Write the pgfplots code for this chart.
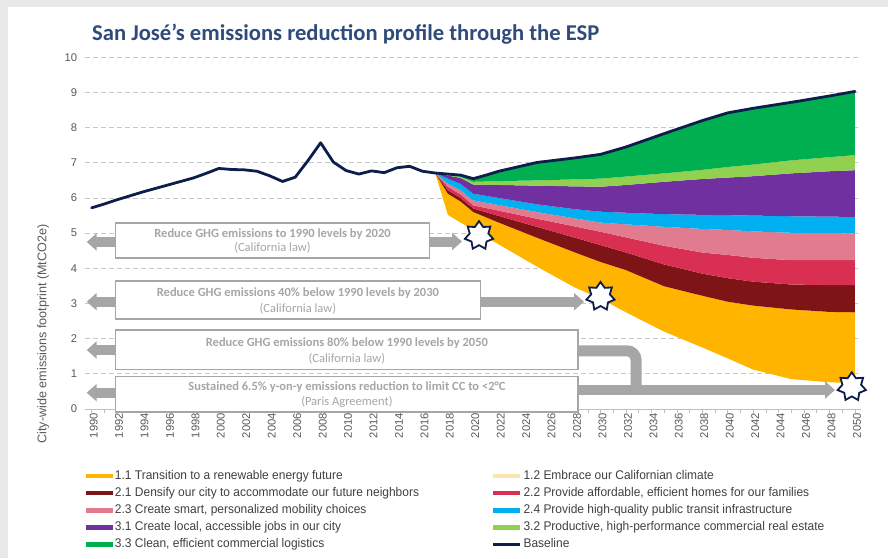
\documentclass[border=0pt]{standalone}
\usepackage{fontspec}
\setmainfont{Liberation Sans}
\newfontfamily\carlito{Carlito}
\newfontfamily\narrowfont[FakeStretch=0.95]{Liberation Sans}
\usepackage{pgfplots}
\pgfplotsset{compat=1.18}
\usepackage{pgfplotstable}
\usepgfplotslibrary{fillbetween}
\usetikzlibrary{arrows.meta}

\definecolor{bggray}{HTML}{E8E8E8}
\definecolor{titleblue}{HTML}{2F4B7C}
\definecolor{c11}{HTML}{FFB400}
\definecolor{c12}{HTML}{FDE3AE}
\definecolor{c21}{HTML}{7E1416}
\definecolor{c22}{HTML}{D92F52}
\definecolor{c23}{HTML}{E17B8F}
\definecolor{c24}{HTML}{00B0F0}
\definecolor{c31}{HTML}{7030A0}
\definecolor{c32}{HTML}{92D050}
\definecolor{c33}{HTML}{00B050}
\definecolor{navy}{HTML}{0E1E4C}
\definecolor{gridgray}{HTML}{C9C9C9}
\definecolor{axisgray}{HTML}{BFBFBF}
\definecolor{ticktext}{HTML}{595959}
\definecolor{annogray}{HTML}{A6A6A6}
\definecolor{legtext}{HTML}{404040}

\pgfdeclareplotmark{star7}{%
  \pgfpathmoveto{\pgfpointpolar{90}{\pgfplotmarksize}}%
  \pgfpathlineto{\pgfpointpolar{115.714}{0.66\pgfplotmarksize}}%
  \pgfpathlineto{\pgfpointpolar{141.429}{\pgfplotmarksize}}%
  \pgfpathlineto{\pgfpointpolar{167.143}{0.66\pgfplotmarksize}}%
  \pgfpathlineto{\pgfpointpolar{192.857}{\pgfplotmarksize}}%
  \pgfpathlineto{\pgfpointpolar{218.571}{0.66\pgfplotmarksize}}%
  \pgfpathlineto{\pgfpointpolar{244.286}{\pgfplotmarksize}}%
  \pgfpathlineto{\pgfpointpolar{270}{0.66\pgfplotmarksize}}%
  \pgfpathlineto{\pgfpointpolar{295.714}{\pgfplotmarksize}}%
  \pgfpathlineto{\pgfpointpolar{321.429}{0.66\pgfplotmarksize}}%
  \pgfpathlineto{\pgfpointpolar{347.143}{\pgfplotmarksize}}%
  \pgfpathlineto{\pgfpointpolar{12.857}{0.66\pgfplotmarksize}}%
  \pgfpathlineto{\pgfpointpolar{38.571}{\pgfplotmarksize}}%
  \pgfpathlineto{\pgfpointpolar{64.286}{0.66\pgfplotmarksize}}%
  \pgfpathclose
  \pgfusepathqfillstroke
}

\pgfplotstableread{
year val
1990 5.72
1991 5.83
1992 5.95
1993 6.06
1994 6.17
1995 6.27
1996 6.37
1997 6.47
1998 6.57
1999 6.70
2000 6.84
2001 6.81
2002 6.80
2003 6.76
2004 6.63
2005 6.47
2006 6.59
2007 7.06
2008 7.57
2009 7.02
2010 6.78
2011 6.68
2012 6.77
2013 6.72
2014 6.86
2015 6.90
2016 6.76
2017 6.71
2018 6.68
2019 6.65
2020 6.55
2021 6.65
2022 6.76
2025 7.01
2028 7.14
2030 7.24
2032 7.45
2035 7.83
2038 8.20
2040 8.42
2042 8.55
2045 8.72
2048 8.90
2050 9.03
}\basedata

\pgfplotstableread{
year b0 b1 b2 b3 b4 b5 b6 b7 b8
2017 6.71 6.71 6.71 6.71 6.71 6.71 6.71 6.71 6.71
2018 5.52 6.12 6.22 6.32 6.41 6.55 6.64 6.66 6.68
2019 5.30 5.90 6.00 6.10 6.22 6.40 6.57 6.60 6.65
2020 5.10 5.60 5.70 5.79 5.93 6.12 6.38 6.46 6.55
2022 4.68 5.30 5.49 5.64 5.80 6.00 6.37 6.48 6.76
2025 4.05 4.87 5.18 5.41 5.60 5.82 6.35 6.50 7.01
2028 3.45 4.45 4.87 5.19 5.42 5.68 6.33 6.53 7.14
2030 3.14 4.18 4.66 5.04 5.30 5.61 6.32 6.55 7.24
2032 2.75 3.95 4.45 4.88 5.25 5.58 6.37 6.61 7.45
2035 2.20 3.49 4.11 4.64 5.18 5.54 6.46 6.70 7.83
2038 1.75 3.22 3.85 4.45 5.12 5.52 6.54 6.80 8.20
2040 1.44 3.05 3.72 4.38 5.09 5.51 6.58 6.88 8.42
2042 1.12 2.94 3.62 4.30 5.05 5.50 6.62 6.95 8.55
2045 0.85 2.83 3.54 4.23 5.01 5.48 6.70 7.07 8.72
2048 0.76 2.76 3.52 4.23 5.00 5.47 6.76 7.16 8.90
2050 0.73 2.75 3.52 4.23 4.99 5.46 6.79 7.22 9.03
}\fut

\pgfplotsset{
  legarea/.style={legend image code/.code={\fill (0pt,-2.25pt) rectangle (27pt,2.25pt);}},
}

\begin{document}
\begin{tikzpicture}[x=1pt,y=1pt]
\fill[bggray] (0,0) rectangle (8.3,558);
\fill[bggray] (0,550.7) rectangle (888,558);

\node[anchor=base west, inner sep=0pt, text=titleblue] at (92,517.3)
  {\carlito\fontsize{22.6}{25}\selectfont\bfseries San José’s emissions reduction profile through the ESP};

\node[rotate=90, inner sep=0pt, text=ticktext] at (43,224)
  {\fontsize{12.6}{14}\selectfont City-wide emissions footprint (MtCO2e)};

\begin{axis}[
  at={(85.3pt,149pt)}, anchor=south west,
  scale only axis, width=776pt, height=351.7pt,
  xmin=1989.5, xmax=2050.5, ymin=0, ymax=10,
  axis lines*=left,
  x axis line style={draw=axisgray, line width=0.8pt},
  y axis line style={draw=none},
  ytick={0,1,...,10},
  ymajorgrids,
  grid style={draw=gridgray, line width=0.8pt, dash pattern=on 5pt off 3pt},
  xtick={1990,1992,...,2050},
  minor xtick={1991,1993,...,2049},
  tick align=outside,
  major tick length=4pt, minor tick length=4pt,
  xtick style={draw=axisgray, line width=0.6pt},
  minor x tick style={draw=axisgray, line width=0.6pt},
  ytick style={draw=none},
  /pgf/number format/1000 sep={},
  /pgf/number format/assume math mode=true,
  ticklabel style={font=\fontsize{11.2}{12}\selectfont, text=ticktext},
  xticklabel style={rotate=90, anchor=east, inner sep=0pt, yshift=-2pt},
  yticklabel style={anchor=east, inner sep=0pt, xshift=-4pt},
  legend columns=2,
  legend cell align=left,
  legend style={
    at={(axis description cs:0.0009,-0.1749)}, anchor=north west,
    draw=none, fill=none, inner sep=0pt, outer sep=0pt,
    font=\narrowfont\fontsize{12.6}{14}\selectfont, text=legtext,
    row sep=6.15pt, column sep=0pt,
    nodes={inner sep=0pt, text height=8.5pt, text depth=2.5pt},
  },
  /tikz/every odd column/.append style={column sep=2pt},
  /tikz/every even column/.append style={column sep=73pt},
]
\addplot[draw=none, name path=b0, forget plot] table[x=year,y=b0]{\fut};
\addplot[draw=none, name path=b1, forget plot] table[x=year,y=b1]{\fut};
\addplot[draw=none, name path=b2, forget plot] table[x=year,y=b2]{\fut};
\addplot[draw=none, name path=b3, forget plot] table[x=year,y=b3]{\fut};
\addplot[draw=none, name path=b4, forget plot] table[x=year,y=b4]{\fut};
\addplot[draw=none, name path=b5, forget plot] table[x=year,y=b5]{\fut};
\addplot[draw=none, name path=b6, forget plot] table[x=year,y=b6]{\fut};
\addplot[draw=none, name path=b7, forget plot] table[x=year,y=b7]{\fut};
\addplot[draw=none, name path=b8, forget plot] table[x=year,y=b8]{\fut};

\addplot[fill=c11, draw=none, forget plot] fill between[of=b1 and b0];
\addplot[fill=c21, draw=none, forget plot] fill between[of=b2 and b1];
\addplot[fill=c22, draw=none, forget plot] fill between[of=b3 and b2];
\addplot[fill=c23, draw=none, forget plot] fill between[of=b4 and b3];
\addplot[fill=c24, draw=none, forget plot] fill between[of=b5 and b4];
\addplot[fill=c31, draw=none, forget plot] fill between[of=b6 and b5];
\addplot[fill=c32, draw=none, forget plot] fill between[of=b7 and b6];
\addplot[fill=c33, draw=none, forget plot] fill between[of=b8 and b7];

\addplot[navy, line width=2.8pt, line join=round, line cap=round, forget plot] table[x=year,y=val]{\basedata};

\addlegendimage{legarea, fill=c11, draw=none}
\addlegendentry{1.1 Transition to a renewable energy future}
\addlegendimage{legarea, fill=c12, draw=none}
\addlegendentry{1.2 Embrace our Californian climate}
\addlegendimage{legarea, fill=c21, draw=none}
\addlegendentry{2.1 Densify our city to accommodate our future neighbors}
\addlegendimage{legarea, fill=c22, draw=none}
\addlegendentry{2.2 Provide affordable, efficient homes for our families}
\addlegendimage{legarea, fill=c23, draw=none}
\addlegendentry{2.3 Create smart, personalized mobility choices}
\addlegendimage{legarea, fill=c24, draw=none}
\addlegendentry{2.4 Provide high-quality public transit infrastructure}
\addlegendimage{legarea, fill=c31, draw=none}
\addlegendentry{3.1 Create local, accessible jobs in our city}
\addlegendimage{legarea, fill=c32, draw=none}
\addlegendentry{3.2 Productive, high-performance commercial real estate}
\addlegendimage{legarea, fill=c33, draw=none}
\addlegendentry{3.3 Clean, efficient commercial logistics}
\addlegendimage{legend image code/.code={\draw[line width=2.5pt] (0pt,0pt) -- (27pt,0pt);}, navy}
\addlegendentry{Baseline}
\end{axis}

% annotations
\tikzset{box/.style={draw=annogray, line width=1.8pt, fill=white},
         blk/.style={annogray, line width=10pt, -{Triangle[length=10pt,width=17pt]}},
         t1/.style={text=annogray, font=\carlito\fontsize{12.5}{14}\selectfont\bfseries},
         t2/.style={text=annogray, font=\carlito\fontsize{12.5}{14}\selectfont}}
% box 1
\draw[box] (115.4,299.7) rectangle (429.5,335.3);
\draw[blk] (116,316) -- (86.7,316);
\draw[blk] (429,316.5) -- (462,316.5);
\node[t1] at (272.5,324) {Reduce GHG emissions to 1990 levels by 2020};
\node[t2] at (272.5,310) {(California law)};
% box 2
\draw[box] (115.4,238.7) rectangle (480.4,277.3);
\draw[blk] (116,256.3) -- (86.7,256.3);
\draw[blk] (480,256.3) -- (584,256.3);
\node[t1] at (297.9,264.7) {Reduce GHG emissions 40\% below 1990 levels by 2030};
\node[t2] at (297.9,249) {(California law)};
% elbow and bottom arrow
\draw[annogray, line width=11pt, rounded corners=9pt] (578,207.2) -| (636,168);
\draw[blk] (578,168) -- (835,168);
% box 3
\draw[box] (115.4,188.5) rectangle (578.3,228);
\draw[blk] (116,208) -- (86.7,208);
\node[t1] at (346.9,214.7) {Reduce GHG emissions 80\% below 1990 levels by 2050};
\node[t2] at (346.9,199.7) {(California law)};
% box 4
\draw[box] (115.4,146.3) rectangle (578.3,181.5);
\draw[blk] (116,165.3) -- (86.7,165.3);
\node[t1] at (346.9,171.3) {Sustained 6.5\% y-on-y emissions reduction to limit CC to <2°C};
\node[t2] at (346.9,156.3) {(Paris Agreement)};

\begin{axis}[
  at={(85.3pt,149pt)}, anchor=south west,
  scale only axis, width=776pt, height=351.7pt,
  xmin=1989.5, xmax=2050.5, ymin=0, ymax=10,
  hide axis, clip=false,
]
\addplot[only marks, mark=star7, mark size=14.5pt, mark options={draw=navy, fill=white, line width=1.8pt}] coordinates {(2020.45,4.93) (2030,3.2) (2049.75,0.63)};
\end{axis}

\pgfresetboundingbox
\useasboundingbox (0,0) rectangle (888,558);
\end{tikzpicture}
\end{document}
